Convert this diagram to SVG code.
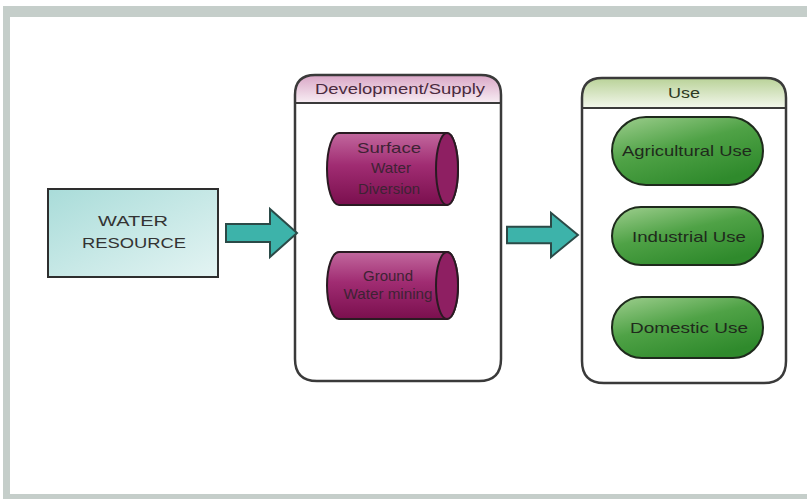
<svg xmlns="http://www.w3.org/2000/svg" width="807" height="499" viewBox="0 0 807 499">
<defs>
<linearGradient id="gBox" x1="0" y1="0" x2="1" y2="1"><stop offset="0" stop-color="#a9dcd9"/><stop offset="1" stop-color="#e4f4f3"/></linearGradient>
<linearGradient id="gDevHdr" x1="0" y1="0" x2="0" y2="1"><stop offset="0" stop-color="#d9a6c6"/><stop offset="1" stop-color="#f8eef4"/></linearGradient>
<linearGradient id="gUseHdr" x1="0" y1="0" x2="0" y2="1"><stop offset="0" stop-color="#b9d298"/><stop offset="1" stop-color="#f3f7ec"/></linearGradient>
<linearGradient id="gCyl" x1="0" y1="0" x2="0" y2="1"><stop offset="0" stop-color="#c2689e"/><stop offset="0.45" stop-color="#a02c72"/><stop offset="1" stop-color="#7a0f4e"/></linearGradient>
<linearGradient id="gPill" x1="0" y1="0" x2="0.6" y2="1"><stop offset="0" stop-color="#9fcf8f"/><stop offset="0.5" stop-color="#4fa246"/><stop offset="1" stop-color="#2f8a2c"/></linearGradient>
<path id="arrowShape" d="M0,-9 H44 V-24 L71,0 L44,24 V9 H0 Z"/>
</defs>
<style>
.frame{fill:#c5ceca}
.cont{fill:none;stroke:#3a3a3a;stroke-width:2.5}
.hdrline{stroke:#3a3a3a;stroke-width:2}
.txt{font-family:"Liberation Sans",Arial,sans-serif;font-size:15px;fill:#2e2a2c;text-anchor:middle}
.cyl{fill:url(#gCyl);stroke:#2a1a22;stroke-width:2}
.pill{fill:url(#gPill);stroke:#1e2a1c;stroke-width:2}
.arrow{fill:#3db3aa;stroke:#2b4a47;stroke-width:2;stroke-linejoin:miter}
</style>
<rect x="0" y="0" width="807" height="499" fill="#ffffff"/>
<path class="frame" d="M3,6 H807 V499 H3 Z M10,17 V494 H807 V17 Z" fill-rule="evenodd"/>

<g id="water-resource">
<rect x="48" y="189" width="170" height="88" fill="url(#gBox)" stroke="#2e2e2e" stroke-width="2"/>
<text class="txt" x="133" y="226" textLength="70" lengthAdjust="spacingAndGlyphs" style="fill:#333">WATER</text>
<text class="txt" x="134" y="248" textLength="104" lengthAdjust="spacingAndGlyphs" style="fill:#333">RESOURCE</text>
</g>

<g id="development-supply">
<path d="M295,103 V95 Q295,75 315,75 H481 Q501,75 501,95 V103 Z" fill="url(#gDevHdr)"/>
<path class="cont" d="M315,75 H481 Q501,75 501,95 V359 Q501,381 479,381 H317 Q295,381 295,359 V95 Q295,75 315,75 Z"/>
<line class="hdrline" x1="295" y1="103" x2="501" y2="103"/>
<text class="txt" x="400" y="94" textLength="170" lengthAdjust="spacingAndGlyphs" style="fill:#4a2a3e">Development/Supply</text>
</g>

<g id="surface-water-diversion">
<path class="cyl" d="M339,133 H447 A11,36 0 0 1 447,205 H339 A12,36 0 0 1 339,133 Z"/>
<ellipse cx="447" cy="169" rx="11" ry="36" fill="#8e1f62" stroke="#2a1a22" stroke-width="2"/>
<text class="txt" x="389" y="153" textLength="64" lengthAdjust="spacingAndGlyphs" style="fill:#3e2234">Surface</text>
<text class="txt" x="391" y="173" textLength="40" lengthAdjust="spacingAndGlyphs" style="fill:#3e2234">Water</text>
<text class="txt" x="389" y="194" textLength="62" lengthAdjust="spacingAndGlyphs" style="fill:#3e2234">Diversion</text>
</g>

<g id="ground-water-mining">
<path class="cyl" d="M339,252 H447 A11,33.5 0 0 1 447,319 H339 A12,33.5 0 0 1 339,252 Z"/>
<ellipse cx="447" cy="285.5" rx="11" ry="33.5" fill="#8e1f62" stroke="#2a1a22" stroke-width="2"/>
<text class="txt" x="388" y="281" textLength="50" lengthAdjust="spacingAndGlyphs" style="fill:#3e2234">Ground</text>
<text class="txt" x="388" y="299" textLength="89" lengthAdjust="spacingAndGlyphs" style="fill:#3e2234">Water mining</text>
</g>

<g id="use">
<path d="M582,108 V98 Q582,78 602,78 H766 Q786,78 786,98 V108 Z" fill="url(#gUseHdr)"/>
<path class="cont" d="M602,78 H766 Q786,78 786,98 V361 Q786,383 764,383 H604 Q582,383 582,361 V98 Q582,78 602,78 Z"/>
<line class="hdrline" x1="582" y1="108" x2="786" y2="108"/>
<text class="txt" x="684" y="98" textLength="32" lengthAdjust="spacingAndGlyphs" style="fill:#2e3a22">Use</text>
</g>

<g id="agricultural-use">
<rect class="pill" x="612" y="117" width="151" height="68" rx="34" ry="34"/>
<text class="txt" x="687" y="156" textLength="130" lengthAdjust="spacingAndGlyphs" style="fill:#1f2a1c">Agricultural Use</text>
</g>

<g id="industrial-use">
<rect class="pill" x="612" y="207" width="151" height="58" rx="29" ry="29"/>
<text class="txt" x="689" y="242" textLength="114" lengthAdjust="spacingAndGlyphs" style="fill:#1f2a1c">Industrial Use</text>
</g>

<g id="domestic-use">
<rect class="pill" x="612" y="297" width="151" height="61" rx="30" ry="30"/>
<text class="txt" x="689" y="333" textLength="118" lengthAdjust="spacingAndGlyphs" style="fill:#1f2a1c">Domestic Use</text>
</g>

<g id="connectors">
<use href="#arrowShape" class="arrow" transform="translate(226,233)"/>
<use href="#arrowShape" class="arrow" transform="translate(507,235) scale(1,0.92)"/>
</g>
</svg>
